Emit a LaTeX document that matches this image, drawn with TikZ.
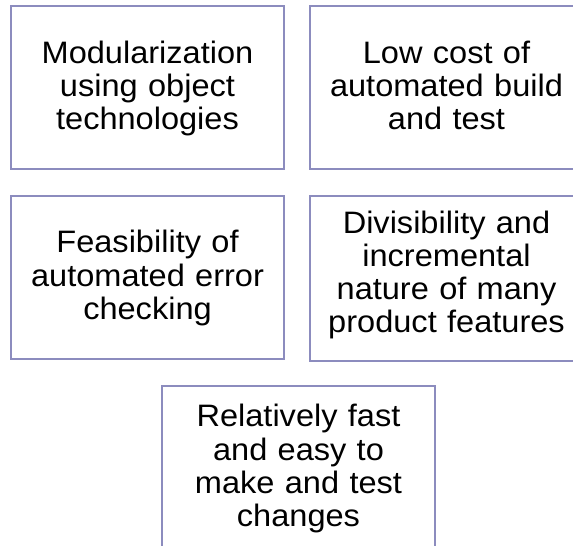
\documentclass[tikz,border=0pt]{standalone}
\usepackage{fontspec}
\setmainfont[FakeStretch=1.05]{Liberation Sans}
\definecolor{boxline}{RGB}{140,140,190}
\tikzset{
  card/.style={draw=boxline, line width=2pt, fill=white, inner sep=0pt,
    minimum width=273pt, minimum height=163pt, anchor=north west},
  cardtext/.style={inner sep=0pt, anchor=base, text width=272pt, align=center,
    font=\fontsize{31pt}{33.3pt}\selectfont, text=black},
}
\begin{document}
\begin{tikzpicture}[x=1pt,y=-1pt]
  \useasboundingbox (0,0) rectangle (573,546);
  \clip (0,0) rectangle (573,546);

  % boxes
  \node[card] (b1) at (10,5) {};
  \node[card] (b2) at (309,5) {};
  \node[card] (b3) at (10,195) {};
  \node[card, minimum height=165pt] (b4) at (309,195) {};
  \node[card] (b5) at (161,385) {};

  % texts, placed by the baseline of their first line
  \node[cardtext] (t1) at ([yshift=-58.3pt]b1.north) {Modularization using object technologies};
  \node[cardtext] (t2) at ([yshift=-58.3pt]b2.north) {Low cost of\\ automated build\\ and test};
  \node[cardtext] (t3) at ([yshift=-57.7pt]b3.north) {Feasibility of\\ automated error\\ checking};
  \node[cardtext] (t4) at ([yshift=-38pt]b4.north) {Divisibility and\\ incremental\\ nature of many\\ product features};
  \node[cardtext] (t5) at ([yshift=-41.7pt]b5.north) {Relatively fast\\ and easy to\\ make and test\\ changes};
\end{tikzpicture}
\end{document}
